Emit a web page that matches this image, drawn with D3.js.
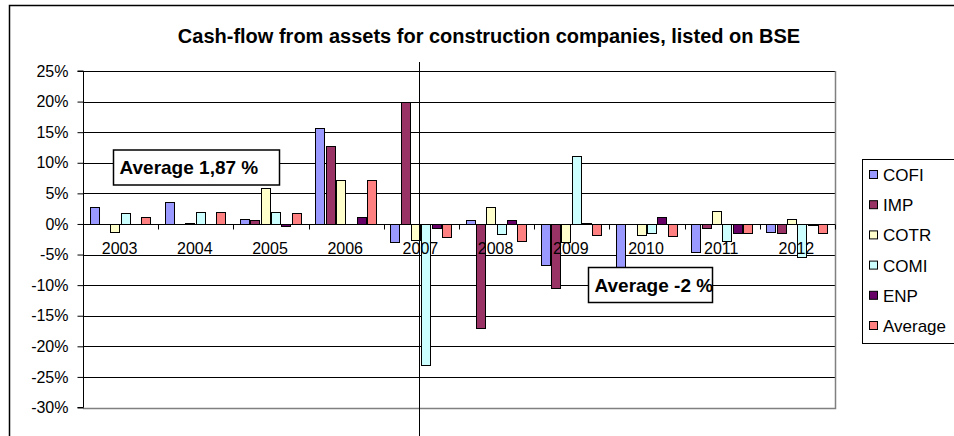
<!DOCTYPE html>
<html>
<head>
<meta charset="utf-8">
<script src="https://cdn.jsdelivr.net/npm/d3@7"></script>
<style>
body { margin: 0; background: #fff; }
svg text { font-family: "Liberation Sans", Arial, sans-serif; fill: #000; }
</style>
</head>
<body>
<svg id="chart" width="954" height="436"></svg>
<script>
// values, in percent
var years = ["2003", "2004", "2005", "2006", "2007", "2008", "2009", "2010", "2011", "2012"];
var seriesNames = ["COFI", "IMP", "COTR", "COMI", "ENP", "Average"];
var cofi = [2.8, 3.6, 0.8, 15.7, -3.0, 0.7, -6.7, -7.2, -4.6, -1.3];
var imp = [0, 0, 0.7, 12.8, 20.0, -17.0, -10.5, 0, -0.7, -1.5];
var cotr = [-1.3, 0.2, 5.9, 7.2, -2.6, 2.8, -2.9, -1.8, 2.1, 0.8];
var comi = [1.8, 1.9, 1.9, 0, -23.1, -1.6, 11.1, -1.5, -2.8, -5.4];
var enp = [0, 0, -0.3, 1.1, -0.7, 0.7, 0.2, 1.1, -1.5, -0.1];
var average = [1.1, 1.9, 1.85, 7.2, -2.2, -2.8, -1.8, -2.0, -1.5, -1.5];
var yTicks = [25, 20, 15, 10, 5, 0, -5, -10, -15, -20, -25, -30];
var notes = [{text: "Average 1,87 %"}, {text: "Average -2 %"}];

var seriesValues = [cofi, imp, cotr, comi, enp, average];
var colors = ["#9999FF", "#993366", "#FFFFCC", "#CCFFFF", "#660066", "#FF8080"];

drawChart();

function drawChart() {
	var svg = d3.select("#chart");

	var plotLeft = 83, plotRight = 835, plotTop = 71, plotBottom = 407.5;

	var x = d3.scaleBand()
		.domain(years)
		.range([plotLeft, plotRight])
		.paddingInner(0.175)
		.paddingOuter(0.0875);

	var xs = d3.scaleBand()
		.domain(seriesNames)
		.range([0, x.bandwidth()]);

	var y = d3.scaleLinear()
		.domain([-30, 25])
		.range([plotBottom, plotTop]);

	// outer chart frame (runs off the picture on the right and bottom)
	svg.append("rect")
		.attr("x", 9.5).attr("y", 5.5)
		.attr("width", 1000).attr("height", 500)
		.attr("fill", "#fff")
		.attr("stroke", "#000")
		.attr("stroke-width", 1.5);

	svg.append("text")
		.attr("x", 489).attr("y", 43)
		.attr("text-anchor", "middle")
		.attr("font-size", 20)
		.attr("font-weight", "bold")
		.text("Cash-flow from assets for construction companies, listed on BSE");

	// gridlines
	svg.append("g")
		.selectAll("line")
		.data(yTicks.filter(function(d) { return d > -30; }))
		.enter().append("line")
		.attr("x1", plotLeft).attr("x2", plotRight)
		.attr("y1", function(d) { return Math.round(y(d)) + 0.5; })
		.attr("y2", function(d) { return Math.round(y(d)) + 0.5; })
		.attr("stroke", "#000")
		.attr("stroke-width", 1);

	// plot area border (grey right and bottom)
	svg.append("path")
		.attr("d", "M" + (plotRight + 0.5) + "," + plotTop + "V" + (Math.round(plotBottom) + 0.5) + "H" + plotLeft)
		.attr("fill", "none")
		.attr("stroke", "#808080")
		.attr("stroke-width", 1.5);

	// bars
	var rows = [];
	seriesValues.forEach(function(vals, s) {
		vals.forEach(function(v, i) {
			rows.push({year: years[i], series: seriesNames[s], value: v, color: colors[s]});
		});
	});

	svg.append("g")
		.selectAll("rect")
		.data(rows.filter(function(d) { return d.value != 0; }))
		.enter().append("rect")
		.attr("x", function(d) { return Math.round(x(d.year) + xs(d.series)) + 0.5; })
		.attr("y", function(d) { return Math.round(y(Math.max(0, d.value))) + 0.5; })
		.attr("width", function(d) { return Math.round(xs.bandwidth()) - 1; })
		.attr("height", function(d) { return Math.max(1, Math.round(Math.abs(y(d.value) - y(0)))); })
		.attr("fill", function(d) { return d.color; })
		.attr("stroke", "#000")
		.attr("stroke-width", 1);

	// y axis
	var yAxis = d3.axisLeft(y)
		.tickValues(yTicks)
		.tickSize(6)
		.tickPadding(9)
		.tickFormat(function(d) { return d + "%"; });

	var gy = svg.append("g")
		.attr("transform", "translate(" + (plotLeft + 0.5) + ",0)")
		.call(yAxis);
	gy.select(".domain").attr("stroke", "#000").attr("d", "M-6," + plotTop + "H0V" + plotBottom + "H-6");
	gy.selectAll(".tick line").attr("stroke", "#000");
	gy.selectAll(".tick text")
		.attr("font-size", 16)
		.attr("font-family", "Liberation Sans, Arial, sans-serif")
		.attr("fill", "#000");

	// category axis on the zero line
	var zeroY = Math.round(y(0)) + 0.5;
	svg.append("line")
		.attr("x1", plotLeft).attr("x2", plotRight)
		.attr("y1", zeroY).attr("y2", zeroY)
		.attr("stroke", "#000");

	var step = x.step();
	svg.append("g")
		.selectAll("line")
		.data(d3.range(1, years.length + 1))
		.enter().append("line")
		.attr("x1", function(i) { return Math.round(plotLeft + i * step) + 0.5; })
		.attr("x2", function(i) { return Math.round(plotLeft + i * step) + 0.5; })
		.attr("y1", zeroY).attr("y2", zeroY + 5)
		.attr("stroke", "#000");

	svg.append("g")
		.selectAll("text")
		.data(years)
		.enter().append("text")
		.attr("x", function(d) { return x(d) + x.bandwidth() / 2 - 1; })
		.attr("y", 254)
		.attr("text-anchor", "middle")
		.attr("font-size", 16)
		.text(function(d) { return d; });

	// separator line drawn across the chart
	svg.append("line")
		.attr("x1", 419.5).attr("x2", 419.5)
		.attr("y1", 62).attr("y2", 436)
		.attr("stroke", "#000")
		.attr("stroke-width", 1);

	// annotation boxes
	notes[0].box = [113, 150, 166, 35];
	notes[1].box = [588, 267.5, 124, 35];
	var note = svg.append("g")
		.selectAll("g")
		.data(notes)
		.enter().append("g");
	note.append("rect")
		.attr("x", function(d) { return d.box[0] + 0.5; })
		.attr("y", function(d) { return d.box[1]; })
		.attr("width", function(d) { return d.box[2]; })
		.attr("height", function(d) { return d.box[3]; })
		.attr("fill", "#fff")
		.attr("stroke", "#000")
		.attr("stroke-width", 1.5);
	note.append("text")
		.attr("x", function(d) { return d.box[0] + 6.5; })
		.attr("y", function(d) { return d.box[1] + 24; })
		.attr("font-size", 19)
		.attr("font-weight", "bold")
		.text(function(d) { return d.text; });

	// legend
	var legend = svg.append("g");
	legend.append("rect")
		.attr("x", 862.5).attr("y", 159.5)
		.attr("width", 120).attr("height", 184)
		.attr("fill", "#fff")
		.attr("stroke", "#000")
		.attr("stroke-width", 1);

	var item = legend.selectAll("g")
		.data(seriesNames)
		.enter().append("g")
		.attr("transform", function(d, i) { return "translate(869," + (175 + i * 30.2) + ")"; });
	item.append("rect")
		.attr("x", 0.5).attr("y", -4.5)
		.attr("width", 8).attr("height", 8)
		.attr("fill", function(d, i) { return colors[i]; })
		.attr("stroke", "#000");
	item.append("text")
		.attr("x", 14)
		.attr("y", 6)
		.attr("font-size", 17)
		.text(function(d) { return d; });
}
</script>
</body>
</html>
